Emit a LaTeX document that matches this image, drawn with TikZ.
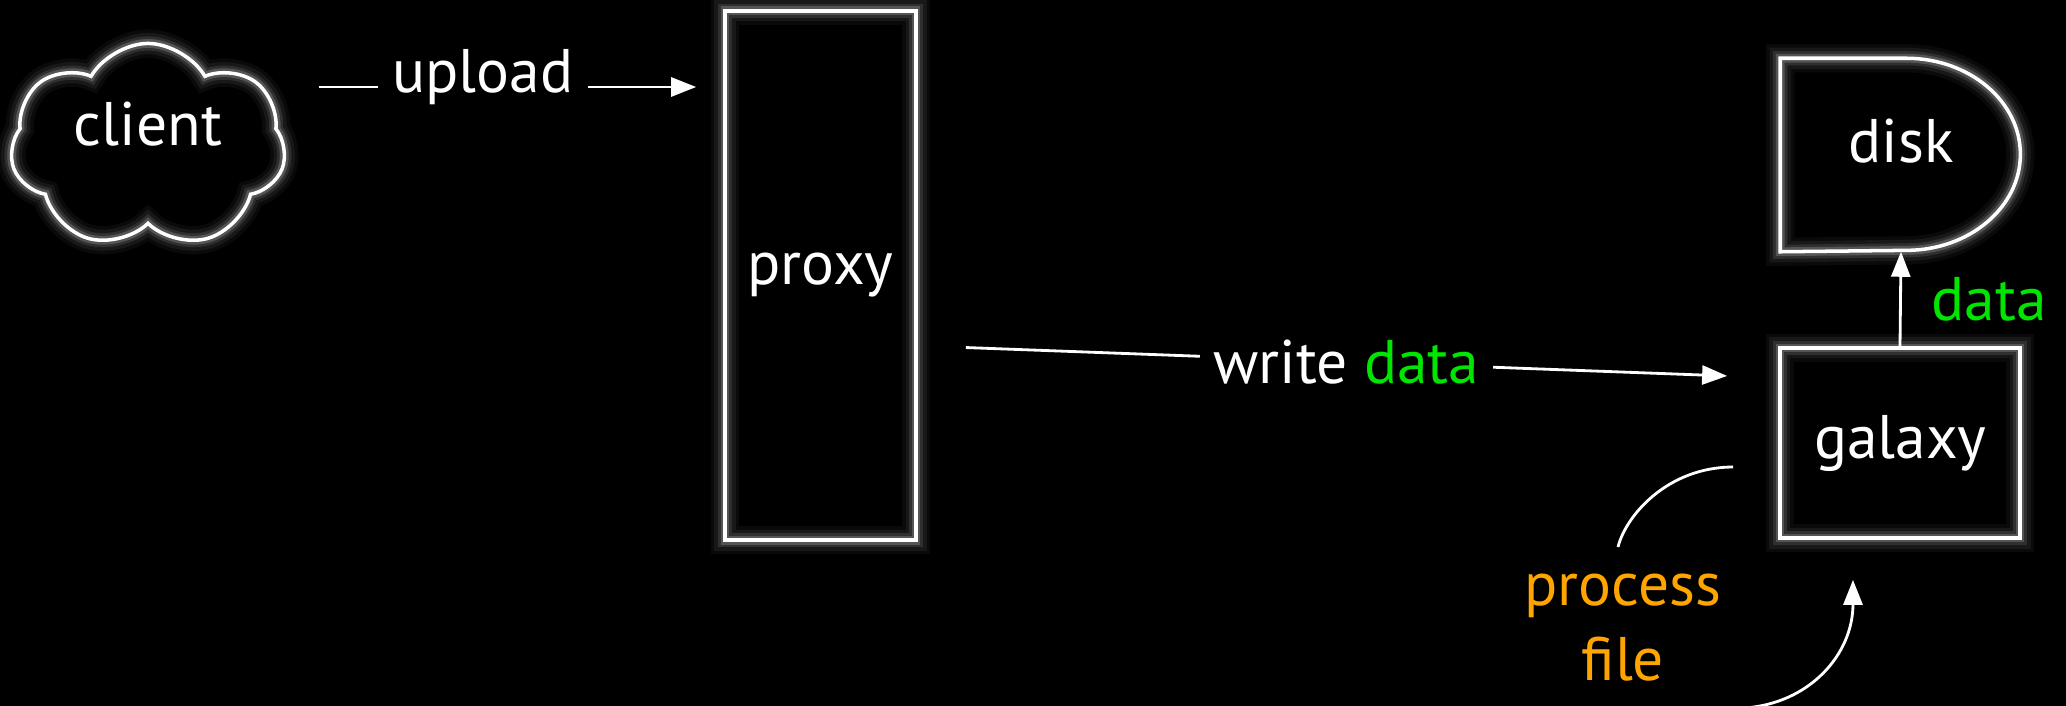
\documentclass[tikz,border=0pt]{standalone}
\usepackage{fontspec}
\setmainfont{PT Sans}
\usetikzlibrary{shapes.symbols,arrows.meta}
\definecolor{datagreen}{RGB}{0,230,0}
\definecolor{procorange}{RGB}{255,165,0}
\begin{document}
\begin{tikzpicture}[x=0.01cm, y=-0.01cm, font=\fontsize{17.5}{21.3}\selectfont, text=white,
	glow/.style={draw=white, line width=1pt, preaction={draw=white, line width=8pt, opacity=0.04}, preaction={draw=white, line width=6pt, opacity=0.06}, preaction={draw=white, line width=4pt, opacity=0.1}, preaction={draw=white, line width=2.5pt, opacity=0.18}},
	flow/.style={draw=white, line width=0.8pt, -{Triangle[length=0.25cm, width=0.19cm]}},
	gap/.style={fill=black, inner sep=4pt}]
	\path[use as bounding box, fill=black] (0,0) rectangle (2066,706);
	\node[cloud, cloud puffs=7, cloud puff arc=120, aspect=1.3, glow, minimum width=2.75cm, minimum height=2.05cm, inner sep=0pt, text depth=0.45cm] (client) at (148,146) {client};
	\node[glow, minimum width=1.91cm, minimum height=5.29cm] (proxy) at (820.5,275.5) {proxy};
	\node[glow, minimum width=2.4cm, minimum height=1.9cm] (galaxy) at (1900,443) {galaxy};
	\node[minimum width=2.4cm, minimum height=1.92cm, text depth=0.28cm] (disk) at (1901,155) {disk};
	\node[text=procorange, align=center] (proc) at (1623,628) {process\\file};
	\coordinate (upl) at (0,87);
	
	\draw[glow] (disk.north west) -- ++(1.26cm,0) arc[start angle=90, end angle=-90, x radius=1.14cm, y radius=0.96cm] -- (disk.south west) -- cycle;
	
	\draw[flow] ([xshift=0.33cm]client.east |- upl) -- node[gap, pos=0.435, yshift=0.1cm] {upload} ([xshift=-0.27cm]proxy.west |- upl);
	\draw[flow] ([xshift=0.48cm, yshift=-0.72cm]proxy.east) -- node[gap] {write \textcolor{datagreen}{data}} ([xshift=-0.51cm, yshift=0.67cm]galaxy.west);
	\draw[flow] (galaxy.north) -- node[right, text=datagreen, xshift=0.18cm] {data} (disk.south);
	
	\draw[white, line width=0.8pt] ([xshift=-0.45cm, yshift=-0.24cm]galaxy.west) .. controls +(-65,0) and +(8,-32) .. ([xshift=-0.05cm, yshift=0.15cm]proc.north);
	\draw[flow] ([xshift=0.1cm, yshift=-0.14cm]proc.south east) .. controls +(65,-4) and +(0,75) .. ([xshift=-0.47cm, yshift=-0.4cm]galaxy.south);
\end{tikzpicture}
\end{document}
